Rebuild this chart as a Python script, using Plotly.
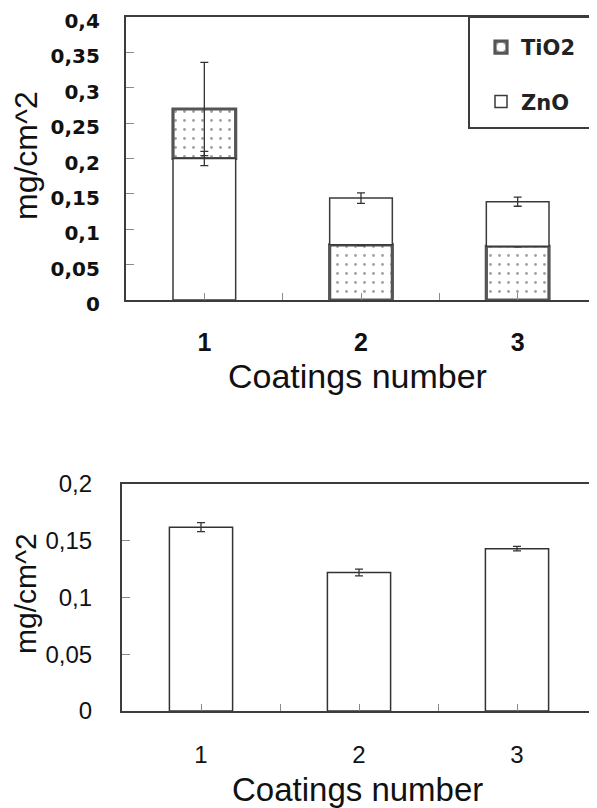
import plotly.graph_objects as go

# ---- data ----
coatings = [1, 2, 3]
coating_labels = ["1", "2", "3"]

# top chart: stacked composition (mg/cm^2)
tio2 = [0.070, 0.078, 0.076]
zno = [0.200, 0.066, 0.063]
tio2_err = [0.066, 0.001, 0.001]   # error of the top of the TiO2 segment
zno_err = [0.010, 0.0075, 0.0065]  # error of the top of the ZnO segment
# which layer sits at the bottom of each bar
zno_on_bottom = [True, False, False]

# bottom chart: total mass (mg/cm^2)
total = [0.162, 0.122, 0.143]
total_err = [0.004, 0.003, 0.002]

top_ticks = [0, 0.05, 0.1, 0.15, 0.2, 0.25, 0.3, 0.35, 0.4]
bot_ticks = [0, 0.05, 0.1, 0.15, 0.2]

# ---- layout helpers (page pixels -> paper fractions; page body has an 8px margin) ----
OFF = 8
W, H = 597 - OFF, 808 - OFF
def px_x(p): return (p - OFF) / W
def px_y(p): return 1 - (p - OFF) / H

tio2_base = [z if b else 0 for z, b in zip(zno, zno_on_bottom)]
zno_base = [0 if b else t for t, b in zip(tio2, zno_on_bottom)]

AX = "#3c3c3c"
TICK = "#8a8a8a"

fig = go.Figure()

fig.add_trace(go.Bar(
    x=coatings, y=tio2, base=tio2_base, name="TiO2", width=0.4,
    legendgroup="a",
    marker=dict(color="white", line=dict(color="#555555", width=3.2),
                pattern=dict(shape=".", fgcolor="#444444", bgcolor="white",
                             size=9, solidity=0.08)),
    error_y=dict(type="data", array=tio2_err, color="#333333", thickness=1.3, width=4),
    xaxis="x", yaxis="y",
))
fig.add_trace(go.Bar(
    x=coatings, y=zno, base=zno_base, name="ZnO", width=0.4,
    legendgroup="b",
    marker=dict(color="white", line=dict(color="#3a3a3a", width=1.5)),
    error_y=dict(type="data", array=zno_err, color="#333333", thickness=1.3, width=4),
    xaxis="x", yaxis="y",
))
fig.add_trace(go.Bar(
    x=coatings, y=total, name="total", width=0.4, showlegend=False,
    marker=dict(color="white", line=dict(color="#333333", width=1.5)),
    error_y=dict(type="data", array=total_err, color="#333333", thickness=1.3, width=4),
    xaxis="x2", yaxis="y2",
))

common_x = dict(range=[0.5, 3.5], tickvals=coatings, ticktext=coating_labels,
                ticks="inside", ticklen=7, tickcolor=TICK, tickwidth=1,
                minor=dict(ticks="inside", dtick=0.5, tick0=0.5, ticklen=7,
                           tickcolor=TICK, tickwidth=1),
                showline=True, mirror=True, linecolor=AX, linewidth=2.2,
                showgrid=False, zeroline=False, fixedrange=True,
                ticklabeloverflow="allow")
common_y = dict(ticks="inside", ticklen=8, tickcolor=TICK, tickwidth=1,
                showline=True, mirror=True, linecolor=AX, linewidth=2.2,
                showgrid=False, zeroline=False, fixedrange=True,
                ticklabeloverflow="allow")

fig.update_layout(
    width=W, height=H,
    margin=dict(l=0, r=0, t=0, b=0, pad=0, autoexpand=False),
    paper_bgcolor="white", plot_bgcolor="white",
    separators=",.",
    barmode="overlay",
    showlegend=True,
    xaxis=dict(domain=[px_x(126), px_x(596)], anchor="y",
               tickfont=dict(family="Liberation Sans, Arial", size=25, color="#111", weight="bold"),
               ticklabelstandoff=19, **common_x),
    yaxis=dict(domain=[px_y(300), px_y(17)], anchor="x", range=[0, 0.4],
               tickvals=top_ticks,
               tickfont=dict(family="DejaVu Sans", size=20, color="#111", weight="bold"),
               ticklabelstandoff=20, ticklabelshift=4, **common_y),
    xaxis2=dict(domain=[px_x(122), px_x(596)], anchor="y2",
                tickfont=dict(family="Liberation Sans, Arial", size=24, color="#111"),
                ticklabelstandoff=21, **common_x),
    yaxis2=dict(domain=[px_y(711), px_y(484)], anchor="x2", range=[0, 0.2],
                tickvals=bot_ticks,
                tickfont=dict(family="Liberation Sans, Arial", size=24, color="#111"),
                ticklabelstandoff=23, **common_y),
    legend=dict(x=px_x(481), y=px_y(27), xanchor="left", yanchor="top",
                bgcolor="rgba(0,0,0,0)", borderwidth=0,
                font=dict(family="DejaVu Sans", size=21, color="#222", weight="bold"),
                tracegroupgap=24, itemwidth=30),
    shapes=[dict(type="rect", xref="paper", yref="paper",
                 x0=px_x(469), x1=px_x(597), y0=px_y(128), y1=px_y(17),
                 line=dict(color=AX, width=2), fillcolor="rgba(0,0,0,0)", layer="above")],
    annotations=[
        dict(text="mg/cm^2", xref="paper", yref="paper", x=px_x(26), y=px_y(156),
             textangle=-90, showarrow=False, xanchor="center", yanchor="middle",
             font=dict(family="Liberation Sans, Arial", size=32, color="#111")),
        dict(text="Coatings number", xref="paper", yref="paper", x=px_x(357), y=px_y(376),
             showarrow=False, xanchor="center", yanchor="middle",
             font=dict(family="Liberation Sans, Arial", size=34, color="#111")),
        dict(text="mg/cm^2", xref="paper", yref="paper", x=px_x(25), y=px_y(594),
             textangle=-90, showarrow=False, xanchor="center", yanchor="middle",
             font=dict(family="Liberation Sans, Arial", size=30, color="#111")),
        dict(text="Coatings number", xref="paper", yref="paper", x=px_x(357), y=px_y(789),
             showarrow=False, xanchor="center", yanchor="middle",
             font=dict(family="Liberation Sans, Arial", size=33, color="#111")),
    ],
)

fig.write_html("out.html")
